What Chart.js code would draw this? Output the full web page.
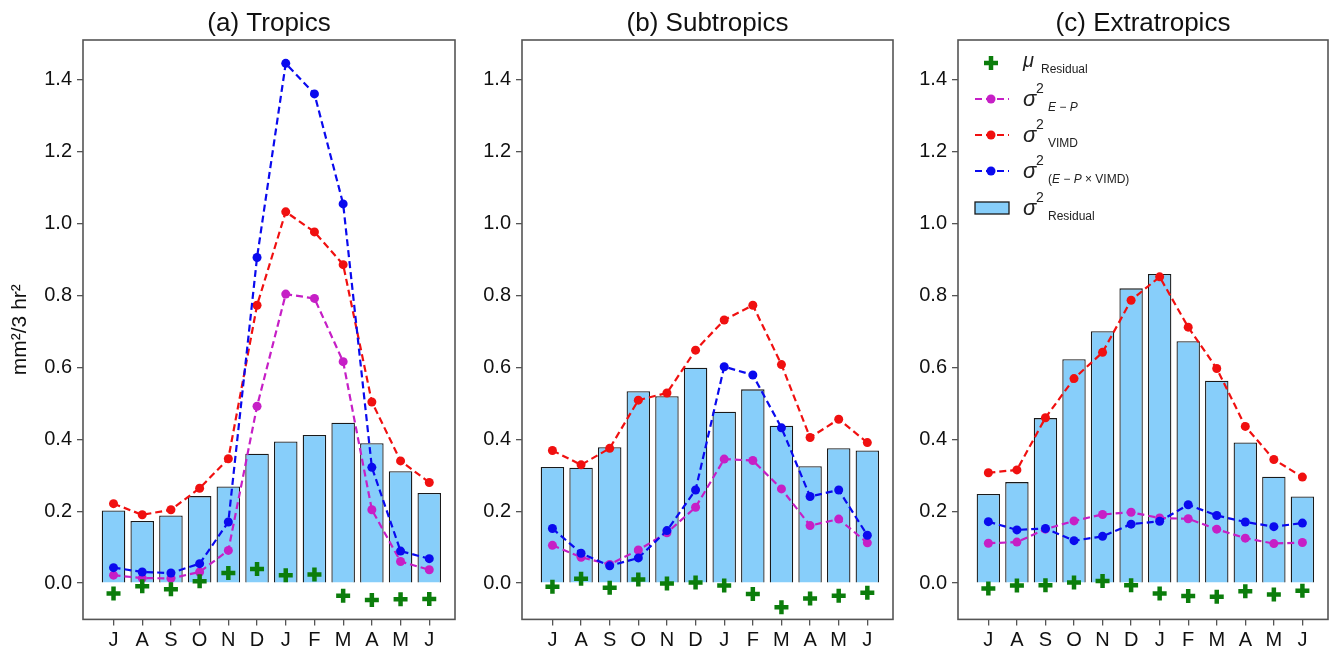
<!DOCTYPE html>
<html><head><meta charset="utf-8">
<script src="https://cdn.jsdelivr.net/npm/chart.js@4.4.0/dist/chart.umd.min.js"></script>
<style>
html,body{margin:0;padding:0;background:#fff;overflow:hidden;width:1332px;height:651px}
canvas.p{position:absolute;top:0}
</style></head><body>
<canvas id="ca" class="p" width="460" height="651" style="left:0px"></canvas>
<canvas id="cb" class="p" width="440" height="651" style="left:460px"></canvas>
<canvas id="cc" class="p" width="432" height="651" style="left:900px"></canvas>
<script>
const months = ['J','A','S','O','N','D','J','F','M','A','M','J'];
const yTickValues = [0.0, 0.2, 0.4, 0.6, 0.8, 1.0, 1.2, 1.4];

// (a) Tropics
const tropResidVar = [0.202,0.173,0.188,0.242,0.269,0.360,0.394,0.412,0.446,0.389,0.311,0.251];
const tropVIMD     = [0.221,0.190,0.204,0.264,0.346,0.773,1.033,0.977,0.886,0.504,0.340,0.280];
const tropCross    = [0.043,0.031,0.028,0.054,0.170,0.906,1.446,1.361,1.055,0.322,0.089,0.068];
const tropEP       = [0.022,0.014,0.013,0.031,0.091,0.492,0.804,0.792,0.616,0.204,0.060,0.037];
const tropResidMu  = [-0.029,-0.009,-0.017,0.005,0.028,0.039,0.022,0.024,-0.035,-0.047,-0.045,-0.044];

// (b) Subtropics
const subResidVar = [0.323,0.321,0.378,0.534,0.520,0.599,0.477,0.539,0.438,0.325,0.375,0.369];
const subVIMD     = [0.369,0.329,0.375,0.509,0.529,0.648,0.732,0.773,0.608,0.405,0.456,0.391];
const subCross    = [0.152,0.083,0.048,0.070,0.146,0.259,0.602,0.579,0.432,0.241,0.259,0.133];
const subEP       = [0.105,0.072,0.052,0.092,0.140,0.211,0.345,0.341,0.262,0.160,0.178,0.112];
const subResidMu  = [-0.010,0.012,-0.013,0.010,-0.001,0.002,-0.007,-0.030,-0.067,-0.043,-0.035,-0.027];

// (c) Extratropics
const extResidVar = [0.248,0.281,0.459,0.623,0.701,0.820,0.860,0.673,0.563,0.391,0.296,0.241];
const extVIMD     = [0.307,0.315,0.460,0.569,0.642,0.787,0.852,0.712,0.597,0.436,0.344,0.295];
const extCross    = [0.171,0.148,0.152,0.118,0.130,0.164,0.172,0.218,0.188,0.170,0.157,0.167];
const extEP       = [0.111,0.114,0.150,0.173,0.191,0.197,0.181,0.179,0.150,0.125,0.110,0.113];
const extResidMu  = [-0.015,-0.007,-0.006,0.002,0.006,-0.006,-0.029,-0.036,-0.038,-0.023,-0.032,-0.021];

const FONT = "'Liberation Sans', Arial, Helvetica, sans-serif";
const C_BAR = '#87CEFA', C_EP = '#C61FC6', C_VIMD = '#F01010', C_CROSS = '#0A0AEE', C_MU = '#0B7D0B';
const slotCenter = i => 0.7 + 1.2 * i;   // barplot-style slot centres
const pts = arr => arr.map((v, i) => ({x: slotCenter(i), y: v}));

const boxPlugin = {
  id: 'box',
  afterDraw(chart) {
    const {ctx, chartArea: a} = chart;
    ctx.save();
    ctx.strokeStyle = '#555';
    ctx.lineWidth = 1.6;
    ctx.strokeRect(a.left, a.top, a.right - a.left, a.bottom - a.top);
    ctx.restore();
  }
};

const legendPlugin = {
  id: 'mathLegend',
  afterDraw(chart, args, opts) {
    if (!opts || !opts.show) return;
    const {ctx, chartArea: a} = chart;
    const L = a.left, T = a.top;
    const sx = L + 33, lx0 = L + 17, lx1 = L + 51;
    const rows = [T + 23, T + 59, T + 95, T + 131, T + 168];
    const sigX = L + 65, supX = L + 78, subX = L + 90;
    ctx.save();
    ctx.textBaseline = 'middle';
    ctx.textAlign = 'left';
    // mu row: plus
    ctx.strokeStyle = C_MU; ctx.lineWidth = 4.5;
    ctx.beginPath();
    ctx.moveTo(sx - 7, rows[0]); ctx.lineTo(sx + 7, rows[0]);
    ctx.moveTo(sx, rows[0] - 7); ctx.lineTo(sx, rows[0] + 7);
    ctx.stroke();
    // line rows
    const lineRows = [[C_EP, rows[1]], [C_VIMD, rows[2]], [C_CROSS, rows[3]]];
    lineRows.forEach(([c, y]) => {
      ctx.strokeStyle = c; ctx.lineWidth = 2.2; ctx.setLineDash([7, 4]);
      ctx.beginPath(); ctx.moveTo(lx0, y); ctx.lineTo(lx1, y); ctx.stroke();
      ctx.setLineDash([]);
      ctx.fillStyle = c; ctx.beginPath(); ctx.arc(sx, y, 4.5, 0, Math.PI * 2); ctx.fill();
    });
    // bar row
    ctx.fillStyle = C_BAR; ctx.strokeStyle = '#1a1a1a'; ctx.lineWidth = 1.3;
    ctx.fillRect(lx0, rows[4] - 6, lx1 - lx0, 12);
    ctx.strokeRect(lx0, rows[4] - 6, lx1 - lx0, 12);
    // text
    ctx.fillStyle = '#222';
    ctx.font = 'italic 20px ' + FONT;
    ctx.fillText('\u03BC', sigX, rows[0] - 2);
    ctx.font = '12px ' + FONT;
    ctx.fillText('Residual', L + 83, rows[0] + 7);
    const subs = [
      [[ 'E \u2212 P', true ]],
      [[ 'VIMD', false ]],
      [[ '(', false ], [ 'E \u2212 P', true ], [ ' \u00D7 VIMD)', false ]],
      [[ 'Residual', false ]]
    ];
    for (let r = 1; r <= 4; r++) {
      const y = rows[r];
      ctx.font = 'italic 22px ' + FONT;
      ctx.fillText('\u03C3', sigX, y + 1);
      ctx.font = '14px ' + FONT;
      ctx.fillText('2', supX, y - 10);
      let x = subX;
      subs[r - 1].forEach(([t, it]) => {
        ctx.font = (it ? 'italic ' : '') + '12px ' + FONT;
        ctx.fillText(t, x, y + 9);
        x += ctx.measureText(t).width;
      });
    }
    ctx.restore();
  }
};

function makePanel(id, title, resid, vimd, cross, ep, mu, yAxisWidth, padRight, yTitle, showLegend) {
  new Chart(document.getElementById(id), {
    type: 'bar',
    data: {
      datasets: [
        {type: 'bar', label: 'sigma2 Residual', data: pts(resid), backgroundColor: C_BAR,
         borderColor: '#1a1a1a', borderWidth: 1.3, barPercentage: 0.82, categoryPercentage: 1, order: 10},
        {type: 'line', label: 'sigma2 E-P', data: pts(ep), borderColor: C_EP, backgroundColor: C_EP,
         borderWidth: 2.2, borderDash: [7, 4], pointRadius: 4.5, pointBorderWidth: 0,
         pointBackgroundColor: C_EP, tension: 0, fill: false, order: 4},
        {type: 'line', label: 'sigma2 VIMD', data: pts(vimd), borderColor: C_VIMD, backgroundColor: C_VIMD,
         borderWidth: 2.2, borderDash: [7, 4], pointRadius: 4.5, pointBorderWidth: 0,
         pointBackgroundColor: C_VIMD, tension: 0, fill: false, order: 3},
        {type: 'line', label: 'sigma2 (E-P x VIMD)', data: pts(cross), borderColor: C_CROSS, backgroundColor: C_CROSS,
         borderWidth: 2.2, borderDash: [7, 4], pointRadius: 4.5, pointBorderWidth: 0,
         pointBackgroundColor: C_CROSS, tension: 0, fill: false, order: 2},
        {type: 'line', label: 'mu Residual', data: pts(mu), showLine: false, pointStyle: 'cross',
         pointRadius: 7, pointBorderWidth: 4.5, pointBorderColor: C_MU, pointBackgroundColor: C_MU, order: 0}
      ]
    },
    options: {
      responsive: false,
      animation: false,
      layout: {autoPadding: false, padding: {left: 0, right: padRight, top: 0, bottom: 0}},
      plugins: {
        legend: {display: false},
        tooltip: {enabled: false},
        title: {display: true, fullSize: false, text: title, color: '#111',
                font: {family: FONT, size: 26, weight: 'normal'}, padding: {top: 8, bottom: 0.8}},
        mathLegend: {show: showLegend}
      },
      scales: {
        x: {
          type: 'linear', min: -0.576, max: 14.976, offset: false,
          grid: {display: true, drawOnChartArea: false, drawTicks: true, tickLength: 6, color: '#555', lineWidth: 1.3, offset: false},
          border: {display: false},
          ticks: {font: {family: FONT, size: 20}, color: '#111', padding: 3, autoSkip: false, maxRotation: 0,
                  callback: (v, i) => months[i]},
          afterBuildTicks: s => { s.ticks = months.map((m, i) => ({value: slotCenter(i)})); },
          afterFit: s => { s.height = 31.6; s.paddingLeft = 0; s.paddingRight = 0; }
        },
        y: {
          type: 'linear', min: -0.101, max: 1.511,
          grid: {display: true, drawOnChartArea: false, drawTicks: true, tickLength: 6, color: '#555', lineWidth: 1.3},
          border: {display: false},
          ticks: {font: {family: FONT, size: 20}, color: '#111', padding: 5, callback: v => Number(v).toFixed(1)},
          afterBuildTicks: s => { s.ticks = yTickValues.map(v => ({value: v})); },
          afterFit: s => { s.width = yAxisWidth; s.paddingTop = 0; s.paddingBottom = 0; },
          title: {display: !!yTitle, text: yTitle || '', color: '#111',
                  font: {family: FONT, size: 21}, padding: {top: 8, bottom: 0}}
        }
      }
    },
    plugins: [boxPlugin, legendPlugin]
  });
}

makePanel('ca', '(a) Tropics', tropResidVar, tropVIMD, tropCross, tropEP, tropResidMu, 83, 5, 'mm\u00B2/3 hr\u00B2', false);
makePanel('cb', '(b) Subtropics', subResidVar, subVIMD, subCross, subEP, subResidMu, 62, 7, null, false);
makePanel('cc', '(c) Extratropics', extResidVar, extVIMD, extCross, extEP, extResidMu, 58, 4, null, true);
</script>
</body></html>
